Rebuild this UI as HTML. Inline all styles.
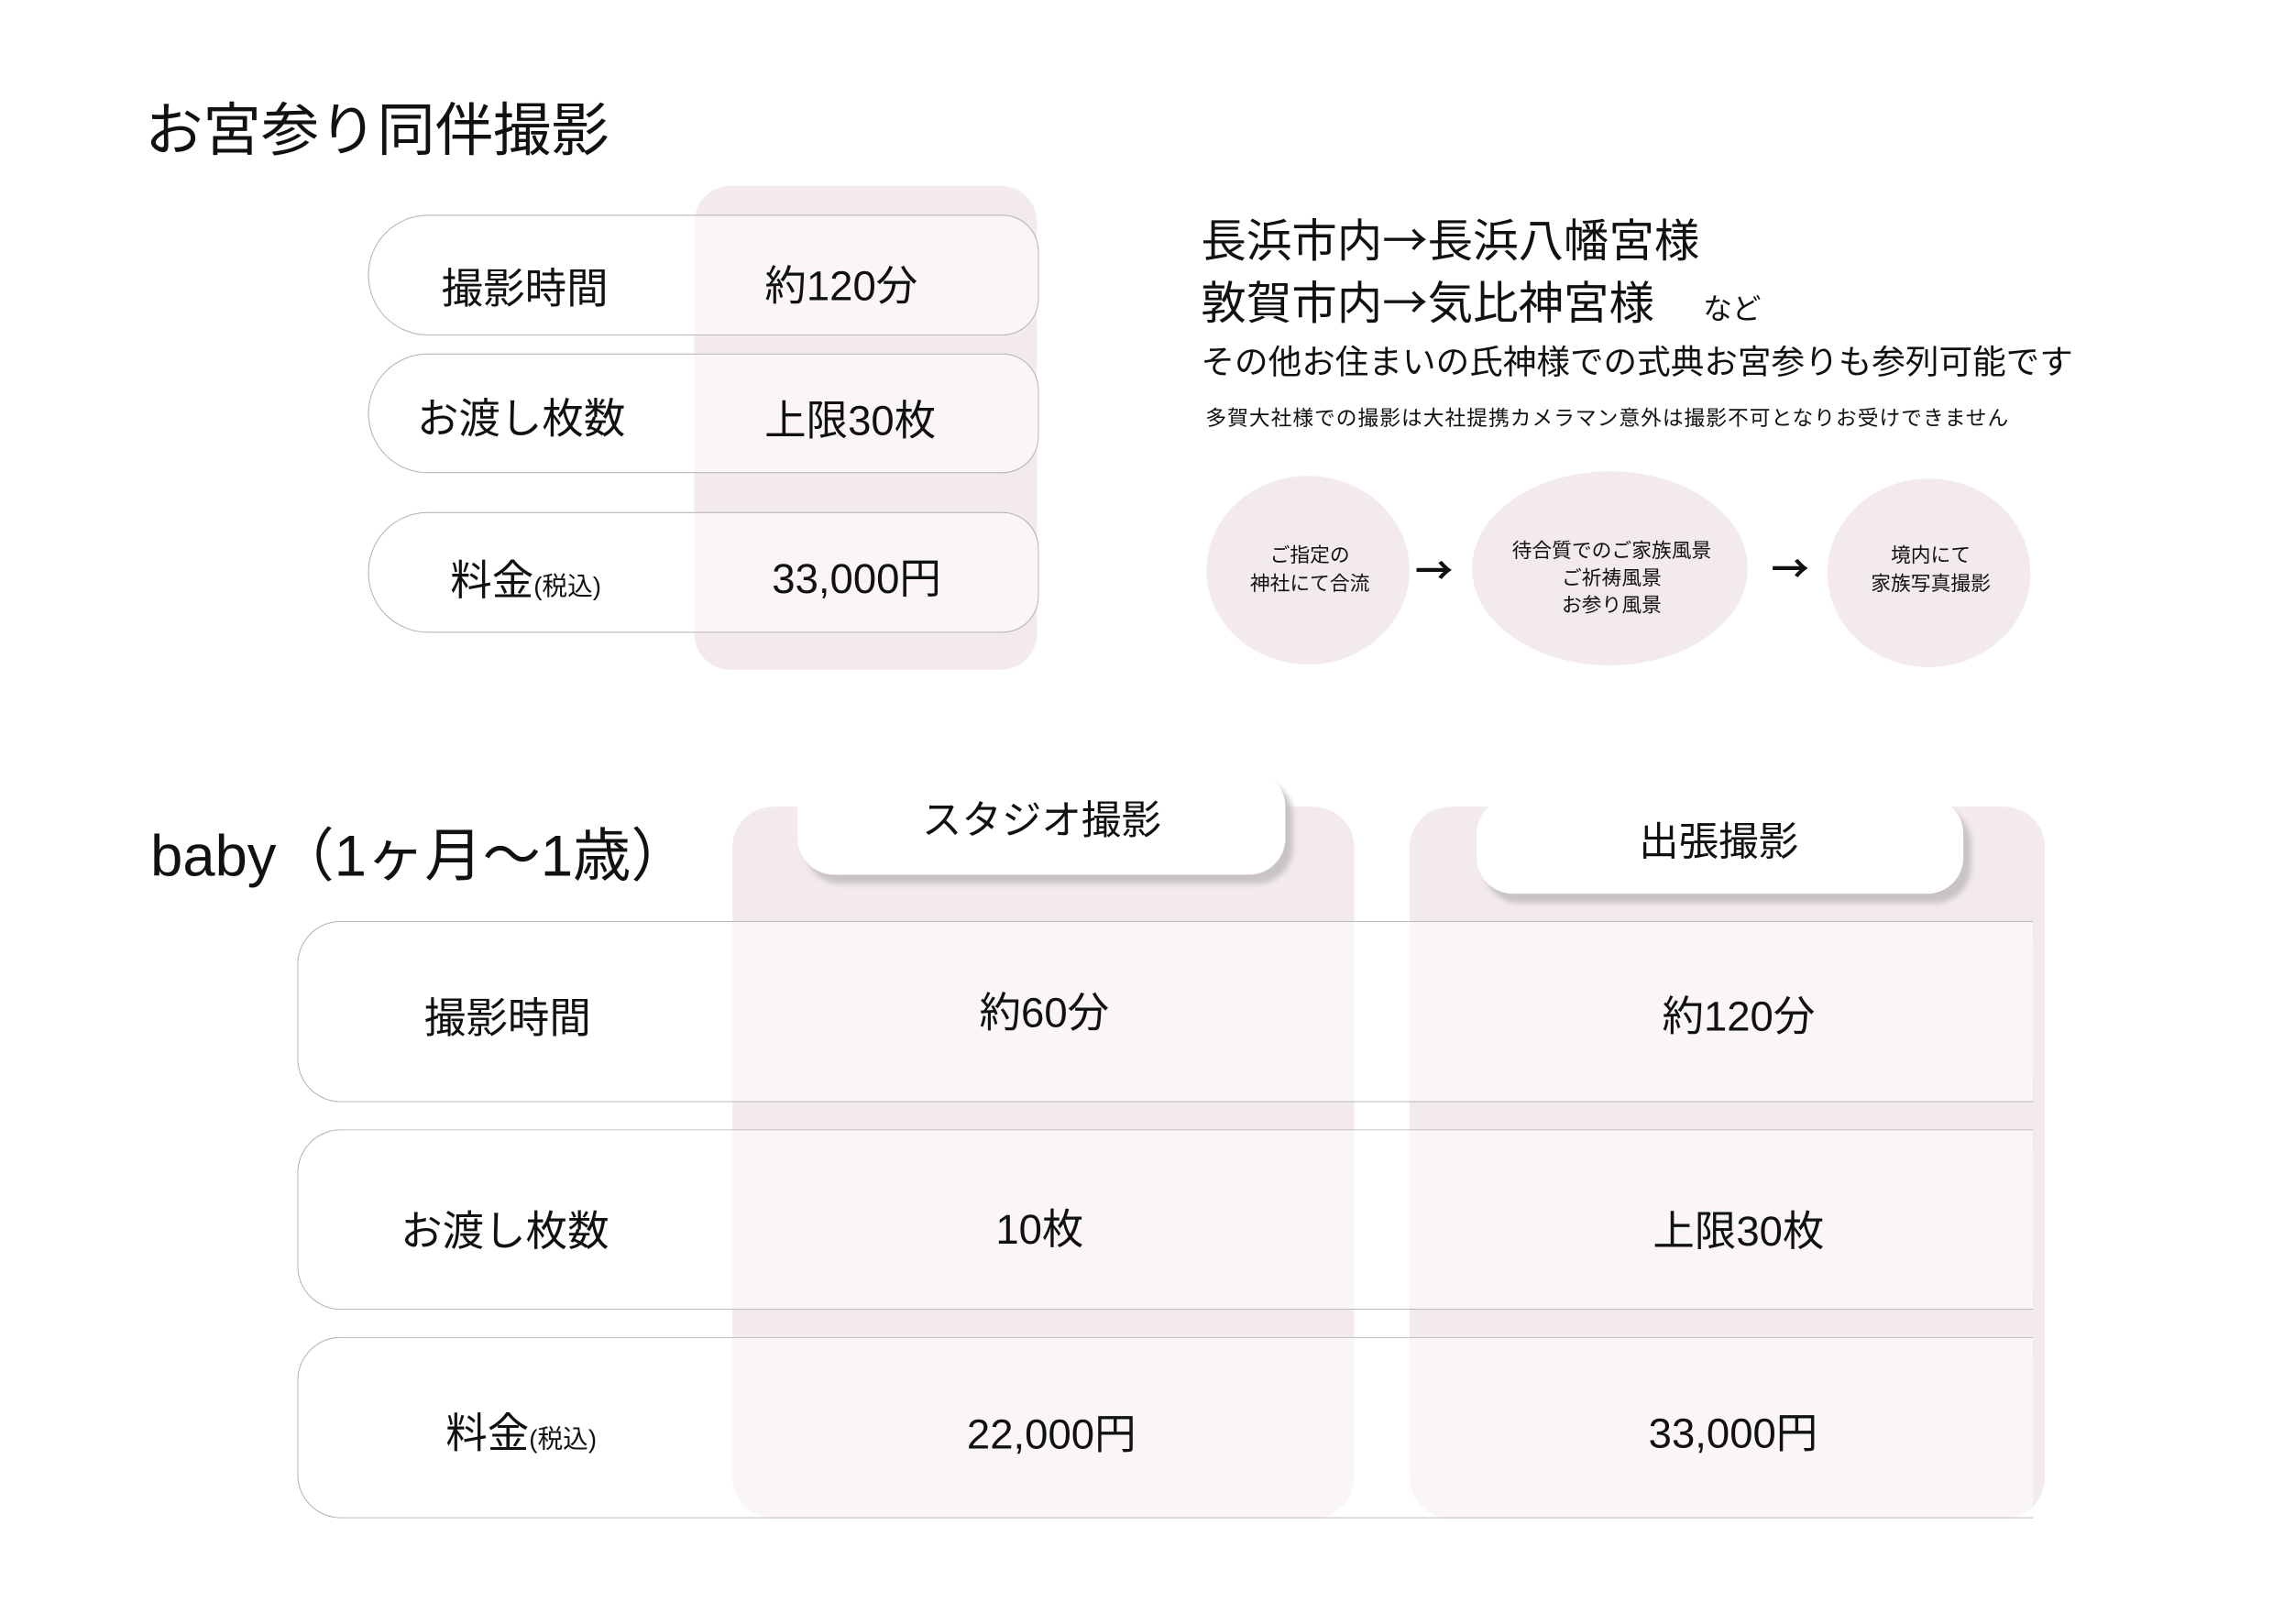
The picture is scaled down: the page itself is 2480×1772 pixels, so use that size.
<!DOCTYPE html>
<html><head><meta charset="utf-8"><style>
body{margin:0;width:2480px;height:1772px;background:#fff;position:relative;overflow:hidden;font-family:"Liberation Sans","Noto Sans CJK JP",sans-serif;color:#111}
#w{position:absolute;left:0;top:0;width:2480px;height:1772px;transform:scale(0.989);transform-origin:0 0}
div{position:absolute;box-sizing:border-box}
.t{white-space:nowrap;transform:translate(-50%,-50%);text-align:center}
.col{background:#f3eaeb}
.row{border:1.5px solid #b0b0b0;background:rgba(255,255,255,0.55)}
.ell{background:#f3eaeb;border-radius:50%}
.tab{background:#fff;border-radius:40px;box-shadow:8px 10px 6px #c9c4c4}
.ar{font-family:"Noto Sans CJK JP",sans-serif}
</style></head><body><div id="w">
<div style="left:160px;top:108px;font-size:64px;line-height:72px">お宮参り同伴撮影</div>

<div class="col" style="left:766px;top:205px;width:378px;height:534px;border-radius:40px"></div>
<div class="row" style="left:406px;top:237px;width:740px;height:133px;border-radius:66px 40px 40px 66px"></div>
<div class="row" style="left:406px;top:390px;width:740px;height:132px;border-radius:66px 40px 40px 66px"></div>
<div class="row" style="left:406px;top:565px;width:740px;height:133px;border-radius:66px 40px 40px 66px"></div>
<div class="t" style="left:579px;top:315px;font-size:46px">撮影時間</div>
<div class="t" style="left:928px;top:312px;font-size:46px">約120分</div>
<div class="t" style="left:575px;top:459px;font-size:46px">お渡し枚数</div>
<div class="t" style="left:938px;top:461px;font-size:46px">上限30枚</div>
<div class="t" style="left:580px;top:637px;font-size:46px">料金<span style="font-size:28px">(税込)</span></div>
<div class="t" style="left:945px;top:635px;font-size:46px">33,000円</div>

<div style="left:1325px;top:232px;font-size:50px;line-height:60px">長浜市内<span class="ar">→</span>長浜八幡宮様</div>
<div style="left:1325px;top:301px;font-size:50px;line-height:60px">敦賀市内<span class="ar">→</span>気比神宮様 <span style="font-size:32px;margin-left:40px">など</span></div>
<div style="left:1325px;top:378px;font-size:37px;line-height:44px">その他お住まいの氏神様での式典お宮参りも参列可能です</div>
<div style="left:1330px;top:446px;font-size:23px;line-height:30px;letter-spacing:1px">多賀大社様での撮影は大社提携カメラマン意外は撮影不可となりお受けできません</div>

<div class="ell" style="left:1331px;top:525px;width:224px;height:208px"></div>
<div class="ell" style="left:1624px;top:520px;width:304px;height:214px"></div>
<div class="ell" style="left:2016px;top:528px;width:224px;height:208px"></div>
<div class="t" style="left:1445px;top:628px;font-size:22px;line-height:31px">ご指定の<br>神社にて合流</div>
<div class="t" style="left:1778px;top:638px;font-size:22px;line-height:30px">待合質でのご家族風景<br>ご祈祷風景<br>お参り風景</div>
<div class="t" style="left:2130px;top:628px;font-size:22px;line-height:31px">境内にて<br>家族写真撮影</div>
<div class="t ar" style="left:1582px;top:627px;font-size:42px;font-weight:bold">→</div>
<div class="t ar" style="left:1975px;top:625px;font-size:42px;font-weight:bold">→</div>

<div style="left:166px;top:906px;font-size:64px;line-height:76px">baby（1ヶ月～1歳）</div>

<div class="col" style="left:808px;top:890px;width:686px;height:785px;border-radius:45px"></div>
<div class="col" style="left:1555px;top:890px;width:701px;height:785px;border-radius:45px"></div>
<div class="tab" style="left:880px;top:850px;width:538px;height:115px"></div>
<div class="tab" style="left:1629px;top:880px;width:537px;height:106px"></div>
<div class="t" style="left:1149px;top:901px;font-size:44px">スタジオ撮影</div>
<div class="t" style="left:1896px;top:925px;font-size:44px">出張撮影</div>

<div class="row" style="left:328px;top:1016px;width:1915px;height:200px;border-right:none;border-radius:48px 0 0 48px"></div>
<div class="row" style="left:328px;top:1246px;width:1915px;height:199px;border-right:none;border-radius:48px 0 0 48px"></div>
<div class="row" style="left:328px;top:1475px;width:1915px;height:200px;border-right:none;border-radius:48px 0 0 48px"></div>
<div class="t" style="left:560px;top:1120px;font-size:46px">撮影時間</div>
<div class="t" style="left:1152px;top:1114px;font-size:46px">約60分</div>
<div class="t" style="left:1918px;top:1118px;font-size:46px">約120分</div>
<div class="t" style="left:557px;top:1355px;font-size:46px">お渡し枚数</div>
<div class="t" style="left:1147px;top:1353px;font-size:46px">10枚</div>
<div class="t" style="left:1918px;top:1355px;font-size:46px">上限30枚</div>
<div class="t" style="left:575px;top:1578px;font-size:46px">料金<span style="font-size:28px">(税込)</span></div>
<div class="t" style="left:1160px;top:1579px;font-size:46px">22,000円</div>
<div class="t" style="left:1912px;top:1578px;font-size:46px">33,000円</div>
</div></body></html>
